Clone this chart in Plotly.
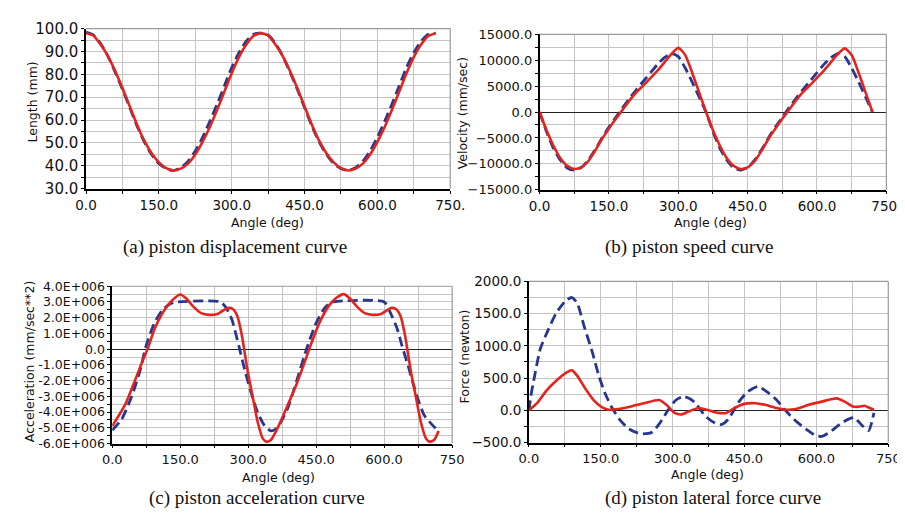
import plotly.graph_objects as go

W, H = 905, 514

# ---------------- data ----------------
# (a) piston displacement (mm), sampled every 15 deg
disp_angle = list(range(0, 721, 15))
disp_red = [98, 97, 93, 88, 81.5, 74, 66, 58, 51, 45.5, 41.5, 39, 38, 38.8, 41, 45, 50.5, 57, 64.5, 72.5, 80.5, 87.5, 93, 96.8, 98,
            97, 93, 88, 81.5, 74, 66, 58, 51, 45.5, 41.5, 39, 38, 38.8, 41, 45, 50.5, 57, 64.5, 72.5, 80.5, 87.5, 93, 96.8, 98]
disp_blue = [98.5, 97.2, 93.5, 88, 81, 73.5, 65.5, 57.5, 50.5, 45, 41, 38.8, 38, 39.2, 42, 46.5, 52.5, 59.5, 67, 75, 83, 89.5, 94.5, 97.5, 98,
             97.2, 93.5, 88, 81, 73.5, 65.5, 57.5, 50.5, 45, 41, 38.8, 38, 39.2, 42, 46.5, 52.5, 59.5, 67, 75, 83, 89.5, 94.5, 97.5, 98]

# (b) piston velocity (mm/sec), sampled every 15 deg
vel_angle = list(range(0, 721, 15))
vel_red = [0, -3500, -6500, -8900, -10400, -11000, -10700, -9500, -7500, -5200, -3200, -1300, 500, 2300, 3900, 5200, 6600, 8000, 9600, 11200, 12400, 11000, 7600, 3800, 0,
           -3500, -6500, -8900, -10400, -11000, -10700, -9500, -7500, -5200, -3200, -1300, 500, 2300, 3900, 5200, 6600, 8000, 9600, 11200, 12300, 11000, 7600, 3800, 0]
vel_blue = [0, -3800, -7000, -9300, -10800, -11200, -10700, -9300, -7300, -5000, -2900, -1000, 900, 2700, 4400, 6000, 7600, 9200, 10500, 11300, 10700, 8500, 5800, 2900, 0,
            -3800, -7000, -9300, -10800, -11200, -10700, -9300, -7300, -5000, -2900, -1000, 900, 2700, 4400, 6000, 7600, 9200, 10500, 11300, 10700, 8500, 5800, 2900, 0]

# (c) piston acceleration (values in 1e6 mm/sec^2)
acc_red_angle = [0, 29, 50, 68, 79, 93, 111, 129, 150, 164, 179, 196, 214, 232, 255, 266, 276, 286, 293, 300, 311, 321, 332, 340, 350,
                 364, 386, 407, 425, 439, 457, 479, 496, 511, 525, 540, 557, 575, 593, 615, 626, 636, 646, 653, 660, 671, 681, 692, 700, 710, 720]
acc_red_e6 = [-4.9, -3.5, -2.0, -0.67, 0.08, 1.27, 2.29, 3.0, 3.47, 3.2, 2.7, 2.29, 2.18, 2.24, 2.62, 2.55, 2.1, 0.86, -0.37, -1.6, -3.2, -4.65, -5.67, -5.88, -5.78,
              -5.06, -3.63, -2.2, -0.78, 0.35, 1.67, 2.8, 3.3, 3.5, 3.2, 2.7, 2.29, 2.18, 2.24, 2.62, 2.55, 2.1, 0.86, -0.37, -1.6, -3.2, -4.65, -5.67, -5.88, -5.78, -5.2]
acc_blue_angle = [0, 21, 43, 61, 75, 93, 111, 129, 143, 239, 252, 264, 279, 293, 307, 321, 336, 350, 364, 386, 407, 429, 450, 471, 489,
                  600, 614, 629, 639, 654, 664, 675, 689, 704, 718]
acc_blue_e6 = [-5.16, -4.45, -3.0, -1.39, 0.24, 1.67, 2.5, 2.9, 3.0, 3.0, 2.6, 1.88, 0.24, -1.39, -2.82, -4.04, -4.86, -5.2, -5.0, -3.84, -2.0, 0.04, 1.67, 2.7, 3.0,
               3.0, 2.29, 1.27, 0.24, -1.18, -2.2, -3.22, -4.24, -4.75, -5.16]

# (d) piston lateral force (newton)
force_red_angle = [0, 17, 37, 57, 78, 90, 101, 118, 135, 152, 166, 186, 213, 240, 272, 287, 304, 318, 334, 355, 375, 395, 412, 429, 449,
                   473, 493, 517, 537, 557, 584, 611, 642, 659, 676, 689, 700, 710, 720]
force_red = [0, 110, 310, 460, 585, 620, 535, 335, 160, 50, 10, 20, 60, 110, 160, 85, -40, -65, -15, 35, 0, -40, -40, 35, 100,
             110, 85, 35, 10, 20, 85, 135, 185, 135, 60, 55, 70, 40, 10]
force_blue_angle = [0, 4, 10, 24, 41, 57, 78, 90, 101, 115, 132, 145, 159, 172, 189, 209, 233, 257, 274, 291, 307, 322, 336, 348, 368,
                    389, 402, 416, 436, 456, 478, 497, 517, 537, 557, 578, 598, 611, 628, 649, 666, 679, 696, 709, 720]
force_blue = [0, 220, 460, 960, 1260, 1510, 1710, 1750, 1660, 1310, 910, 560, 260, 60, -140, -290, -365, -340, -190, 10, 160, 215, 180, 110, -90,
              -200, -220, -140, 110, 285, 370, 285, 160, -15, -165, -290, -390, -405, -340, -215, -140, -115, -240, -315, -40]

x_tickvals = [0, 150, 300, 450, 600, 750]
x_text_ab = ["0.0", "150.0", "300.0", "450.0", "600.0", "750."]
x_text_cd = ["0.0", "150.0", "300.0", "450.0", "600.0", "750"]
acc_tickvals_e6 = [4, 3, 2, 1, 0, -1, -2, -3, -4, -5, -6]
acc_ticktext = ["4.0E+006", "3.0E+006", "2.0E+006", "1.0E+006", "0.0", "-1.0E+006", "-2.0E+006",
                "-3.0E+006", "-4.0E+006", "-5.0E+006", "-6.0E+006"]

captions = ["(a) piston displacement curve", "(b) piston speed curve",
            "(c) piston acceleration curve", "(d) piston lateral force curve"]
ytitles = ["Length (mm)", "Velocity (mm/sec)", "Acceleration (mm/sec**2)", "Force (newton)"]

# ---------------- layout helpers ----------------
RED = "#e5231d"
BLUE = "#27368f"
GRID = "#c4c4c4"
FONT = "DejaVu Sans"
ytick_sizes = [15, 13, 12.5, 13.5]
xtick_sizes = [13.5, 13.5, 13, 13]

# plot boxes in pixels: (left, right, top, bottom)
boxes = [(69, 444, 12, 178), (536, 893, 18, 179), (96, 446, 279, 442), (525, 895, 274, 441)]

def dom(b):
    l, r, t, btm = b
    return [l / W, r / W], [1 - btm / H, 1 - t / H]

fig = go.Figure()

series = [
    (disp_angle, disp_red, disp_angle, disp_blue),
    (vel_angle, vel_red, vel_angle, vel_blue),
    (acc_red_angle, [v * 1e6 for v in acc_red_e6], acc_blue_angle, [v * 1e6 for v in acc_blue_e6]),
    (force_red_angle, force_red, force_blue_angle, force_blue),
]

for i, (xr, yr, xb, yb) in enumerate(series):
    ax = "" if i == 0 else str(i + 1)
    fig.add_trace(go.Scatter(x=xb, y=yb, mode="lines", xaxis="x" + ax, yaxis="y" + ax,
                             line=dict(color=BLUE, width=2.8, dash="10px,5px", shape="spline", smoothing=0.6)))
    fig.add_trace(go.Scatter(x=xr, y=yr, mode="lines", xaxis="x" + ax, yaxis="y" + ax,
                             line=dict(color=RED, width=2.6, shape="spline", smoothing=0.6)))

yconf = [
    dict(range=[30, 100], tickvals=[30, 40, 50, 60, 70, 80, 90, 100], tickformat=".1f", minor_dtick=5, zero=False),
    dict(range=[-15000, 15000], tickvals=list(range(-15000, 15001, 5000)), tickformat=".1f", minor_dtick=2500, zero=True),
    dict(range=[-6e6, 4e6], tickvals=[v * 1e6 for v in acc_tickvals_e6], ticktext=acc_ticktext, minor_dtick=0.5e6, zero=True),
    dict(range=[-500, 2000], tickvals=list(range(-500, 2001, 500)), tickformat=".1f", minor_dtick=250, zero=True),
]

layout = dict(width=W, height=H, margin=dict(l=0, r=0, t=0, b=0), showlegend=False,
              paper_bgcolor="white", plot_bgcolor="white")
shapes = []
annotations = []
for i, b in enumerate(boxes):
    xd, yd = dom(b)
    ax = "" if i == 0 else str(i + 1)
    xtext = x_text_ab if i < 2 else x_text_cd
    layout["xaxis" + ax] = dict(domain=xd, range=[0, 750], anchor="y" + ax, tickmode="array",
                                tickvals=x_tickvals, ticktext=xtext,
                                tickfont=dict(family=FONT, size=xtick_sizes[i], color="#111"),
                                showgrid=True, gridcolor=GRID, gridwidth=1,
                                showline=True, linecolor="black", linewidth=1.5,
                                ticks="outside", ticklen=3, tickcolor="black",
                                minor=dict(tickmode="linear", tick0=0, dtick=75, showgrid=True, gridcolor=GRID,
                                           ticks="outside", ticklen=3, tickcolor="black"),
                                zeroline=False, fixedrange=True)
    c = yconf[i]
    yax = dict(domain=yd, range=c["range"], anchor="x" + ax, tickmode="array", tickvals=c["tickvals"],
               tickfont=dict(family=FONT, size=ytick_sizes[i], color="#111"),
               showgrid=True, gridcolor=GRID, gridwidth=1,
               showline=True, linecolor="black", linewidth=1.5,
               ticks="outside", ticklen=3, tickcolor="black",
               minor=dict(tickmode="linear", tick0=0, dtick=c["minor_dtick"], showgrid=True,
                          gridcolor=GRID, ticks="outside", ticklen=3, tickcolor="black"),
               zeroline=c["zero"], zerolinecolor="#222", zerolinewidth=1.2, fixedrange=True)
    if "ticktext" in c:
        yax["ticktext"] = c["ticktext"]
    else:
        yax["tickformat"] = c["tickformat"]
    layout["yaxis" + ax] = yax
    # gray top/right border
    shapes.append(dict(type="line", xref="paper", yref="paper", x0=xd[0], x1=xd[1], y0=yd[1], y1=yd[1],
                       line=dict(color="#9a9a9a", width=1.2)))
    shapes.append(dict(type="line", xref="paper", yref="paper", x0=xd[1], x1=xd[1], y0=yd[0], y1=yd[1],
                       line=dict(color="#9a9a9a", width=1.2)))

def px(x, y):
    return x / W, 1 - y / H

angle_pos = [(256, 213), (712, 213), (267, 477), (709, 474)]
ytitle_pos = [(14, 88), (457, 100), (11, 357), (459, 352)]
caption_pos = [(222, 238), (690, 238), (245, 498), (715, 498)]

for i in range(4):
    x, y = px(*angle_pos[i])
    annotations.append(dict(text="Angle (deg)", x=x, y=y, xref="paper", yref="paper", showarrow=False,
                            font=dict(family=FONT, size=12.5, color="#111"), xanchor="center", yanchor="middle"))
    x, y = px(*ytitle_pos[i])
    annotations.append(dict(text=ytitles[i], x=x, y=y, xref="paper", yref="paper", showarrow=False, textangle=-90,
                            font=dict(family=FONT, size=12.5, color="#111"), xanchor="center", yanchor="middle"))
    x, y = px(*caption_pos[i])
    annotations.append(dict(text=captions[i], x=x, y=y, xref="paper", yref="paper", showarrow=False,
                            font=dict(family="Liberation Serif", size=19, color="#111"), xanchor="center", yanchor="middle"))

layout["shapes"] = shapes
layout["annotations"] = annotations
fig.update_layout(**layout)
fig.write_html("out.html")
